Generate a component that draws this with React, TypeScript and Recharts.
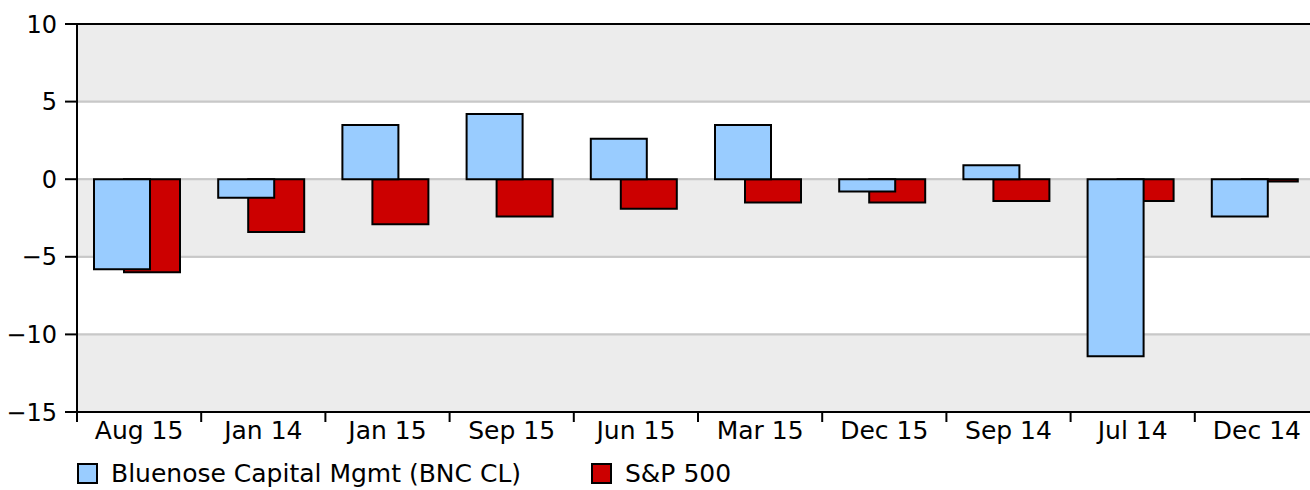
import React from "react"
import { BarChart, Bar, XAxis, YAxis, CartesianGrid, Legend, ReferenceLine, ReferenceArea, Rectangle } from "recharts"

const categories = ["Aug 15", "Jan 14", "Jan 15", "Sep 15", "Jun 15", "Mar 15", "Dec 15", "Sep 14", "Jul 14", "Dec 14"]
const bluenoseReturns = [-5.8, -1.2, 3.5, 4.2, 2.6, 3.5, -0.8, 0.9, -11.4, -2.4]
const sp500Returns = [-6.0, -3.4, -2.9, -2.4, -1.9, -1.5, -1.5, -1.4, -1.4, -0.15]
const yTicks = [-15, -10, -5, 0, 5, 10]
// alternate grey bands behind the plot (low, high)
const shadedBands = [
  [5, 10],
  [-5, 0],
  [-15, -10],
]

const BLUE = "#99ccff"
const RED = "#cc0000"
const GRID = "#c8c8c8"
const FONT = "'DejaVu Sans', Verdana, sans-serif"

const CHART_W = 1324
const CHART_H = 490
const Y_AXIS_W = 77
const MARGIN = { top: 24, right: 5, left: 0, bottom: 0 }
const BAND = (CHART_W - MARGIN.left - MARGIN.right - Y_AXIS_W) / categories.length

const data = categories.map((label, i) => ({
  label,
  bnc: bluenoseReturns[i],
  spx: sp500Returns[i],
}))

// both bars share a slot, then get nudged so they overlap like the original
const shifted = (dx: number) => (props: any) => <Rectangle {...props} x={props.x + dx} />

const minus = (v: number) => String(v).replace("-", "\u2212")

function XTick({ x, y, payload }: any) {
  return (
    <g>
      <line x1={x - BAND / 2} x2={x - BAND / 2} y1={y} y2={y + 10} stroke="#000" strokeWidth={2} />
      <text x={x} y={y + 9} dy="0.71em" textAnchor="middle" fill="#000" fontSize={25} fontFamily={FONT}>
        {payload.value}
      </text>
    </g>
  )
}

const legendItems = [
  { name: "Bluenose Capital Mgmt (BNC CL)", color: BLUE, width: 514 },
  { name: "S&P 500", color: RED, width: 300 },
]

function LegendContent() {
  return (
    <div style={{ display: "flex", alignItems: "center", height: 38, paddingTop: 4, boxSizing: "border-box", paddingLeft: 77, fontFamily: FONT, fontSize: 25, color: "#000" }}>
      {legendItems.map((item) => (
        <div key={item.name} style={{ width: item.width, display: "flex", alignItems: "center" }}>
          <span style={{ width: 17, height: 17, background: item.color, border: "2px solid #000", display: "inline-block" }} />
          <span style={{ marginLeft: 13, whiteSpace: "nowrap" }}>{item.name}</span>
        </div>
      ))}
    </div>
  )
}

export default function App() {
  return (
    <div style={{ position: "absolute", left: 0, top: 0, width: 1310, height: 490, overflow: "hidden", background: "#fff" }}>
      <BarChart width={CHART_W} height={CHART_H} data={data} margin={MARGIN} barSize={56} barGap={-56}>
        {shadedBands.map(([lo, hi]) => (
          <ReferenceArea key={lo} y1={lo} y2={hi} fill="#ececec" fillOpacity={1} stroke={GRID} strokeWidth={2} />
        ))}
        <CartesianGrid vertical={false} stroke={GRID} strokeWidth={2} />
        <XAxis
          dataKey="label"
          height={40}
          tickSize={0}
          tickMargin={0}
          axisLine={{ stroke: "#000", strokeWidth: 2 }}
          tick={<XTick />}
          interval={0}
        />
        <YAxis
          width={Y_AXIS_W}
          domain={[-15, 10]}
          ticks={yTicks}
          tickSize={12}
          tickMargin={8}
          tickFormatter={minus}
          axisLine={{ stroke: "#000", strokeWidth: 2 }}
          tickLine={{ stroke: "#000", strokeWidth: 2 }}
          tick={{ fill: "#000", fontSize: 24, fontFamily: FONT }}
          interval={0}
        />
        <ReferenceLine y={10} stroke="#000" strokeWidth={2} />
        <Bar dataKey="spx" name="S&P 500" fill={RED} stroke="#000" strokeWidth={2} shape={shifted(13)} isAnimationActive={false} />
        <Bar dataKey="bnc" name="Bluenose Capital Mgmt (BNC CL)" fill={BLUE} stroke="#000" strokeWidth={2} shape={shifted(-17)} isAnimationActive={false} />
        <Legend verticalAlign="bottom" height={38} wrapperStyle={{ left: 0, bottom: 0, width: 1310 }} content={<LegendContent />} />
      </BarChart>
    </div>
  )
}
